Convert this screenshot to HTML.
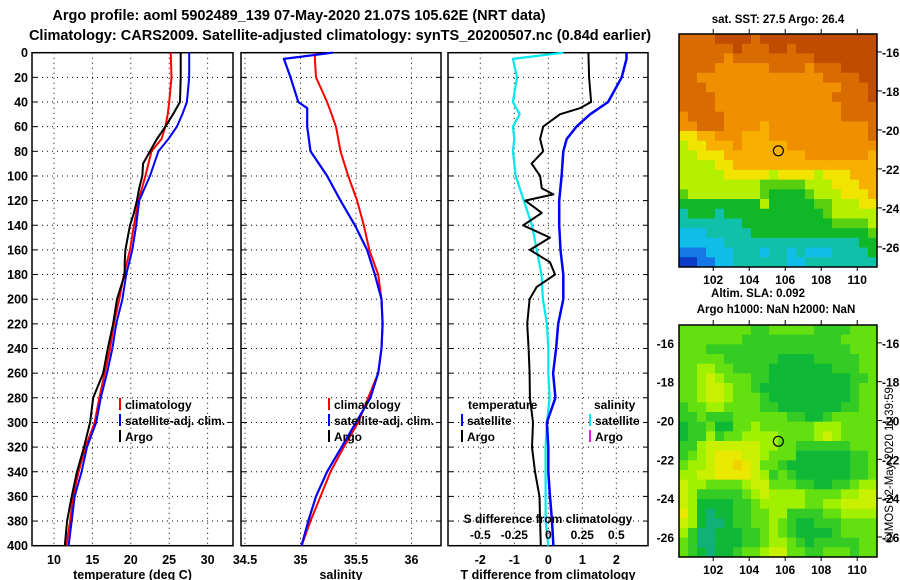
<!DOCTYPE html>
<html><head><meta charset="utf-8">
<style>
html,body{margin:0;padding:0;background:#fff;}
svg{display:block;font-family:"Liberation Sans",sans-serif;font-weight:bold;}
</style></head>
<body>
<svg id="chart" width="900" height="580" viewBox="0 0 900 580" xmlns="http://www.w3.org/2000/svg">
<rect x="0" y="0" width="900" height="580" fill="#fff"/>
<text x="299" y="20" font-size="14.5" text-anchor="middle">Argo profile: aoml 5902489_139 07-May-2020 21.07S 105.62E (NRT data)</text>
<text x="340" y="40" font-size="14.5" text-anchor="middle">Climatology: CARS2009. Satellite-adjusted climatology: synTS_20200507.nc (0.84d earlier)</text>
<text x="778" y="23" font-size="11.5" text-anchor="middle">sat. SST: 27.5 Argo: 26.4</text>
<g id="layer"></g>
<text x="758" y="297" font-size="11.5" text-anchor="middle">Altim. SLA: 0.092</text>
<text x="776" y="313" font-size="11.5" text-anchor="middle">Argo h1000: NaN h2000: NaN</text>
<text x="0" y="0" font-size="11.5" font-weight="normal" text-anchor="middle" transform="translate(893,465) rotate(-90)">©IMOS 12-May-2020 11:39:59</text>
</svg>
<script>
// ---- data ----
const depthTicks = [0,20,40,60,80,100,120,140,160,180,200,220,240,260,280,300,320,340,360,380,400];
const tempTicks = [10,15,20,25,30];
const salTicks = [34.5,35,35.5,36];
const diffTicks = [-2,-1,0,1,2];
const sdiffTicks = [-0.5,-0.25,0,0.25,0.5];

const tempDepth = [0,20,40,50,60,70,80,100,120,140,160,180,200,220,240,260,280,300,320,340,360,380,400];
const tempClim = [25.2,25.3,25.0,24.8,24.5,24.0,22.7,21.9,21.0,20.4,19.9,19.1,18.5,17.8,17.3,16.6,15.9,15.3,14.1,13.2,12.5,12.1,11.6];
const tempSat = [27.6,27.6,27.3,26.7,26.0,24.9,23.6,22.5,21.1,20.7,20.2,19.4,18.9,18.1,17.6,16.9,16.1,15.5,14.3,13.6,12.7,12.3,11.9];
const argoDepth = [0,20,40,50,60,70,80,90,100,110,120,130,140,150,160,170,180,190,200,220,240,260,280,300,320,340,360,380,400];
const argoTemp = [26.5,26.5,26.4,25.5,24.5,23.4,22.5,21.6,21.5,21.1,20.8,20.4,19.9,19.6,19.3,19.2,19.2,18.7,18.2,17.7,17.0,16.4,15.1,14.7,13.9,13.0,12.3,11.7,11.4];

const salDepth = [0,5,20,40,45,60,80,100,120,140,160,180,200,220,240,260,280,300,320,340,360,380,400];
const salClim = [35.13,35.13,35.14,35.24,35.26,35.32,35.36,35.43,35.51,35.57,35.62,35.70,35.73,35.74,35.73,35.70,35.61,35.52,35.39,35.27,35.18,35.09,35.01];
const salSat = [35.29,34.85,34.91,34.98,35.06,35.06,35.09,35.24,35.36,35.49,35.60,35.67,35.73,35.74,35.73,35.70,35.63,35.50,35.37,35.24,35.14,35.07,35.01];

const diffDepth = [0,5,20,40,50,60,70,80,100,120,140,160,180,200,220,240,260,280,300,320,340,360,380,400];
const satSdiff = [0.11,-0.26,-0.23,-0.26,-0.21,-0.26,-0.25,-0.26,-0.24,-0.18,-0.12,-0.085,-0.05,-0.04,-0.01,0,0,0.01,-0.01,-0.02,-0.02,-0.02,-0.02,0];
const satTdiff = [2.3,2.3,2.16,1.76,1.23,0.83,0.54,0.44,0.39,0.32,0.32,0.36,0.44,0.44,0.29,0.23,0.14,0.21,-0.04,0,0,0.05,0.11,0.15];
const argoDiffDepth = [0,20,40,45,50,60,70,80,90,100,110,115,120,130,140,150,160,170,180,190,200,220,240,260,280,300,320,340,360,380,400];
const argoTdiff = [1.18,1.2,1.26,0.93,0.34,-0.15,-0.24,-0.15,-0.49,-0.24,-0.19,0.15,-0.68,-0.19,-0.74,0.05,-0.54,0.05,0.2,-0.34,-0.55,-0.62,-0.58,-0.55,-0.54,-0.45,-0.48,-0.39,-0.26,-0.24,-0.22];

const lonTicks = [102,104,106,108,110];
const latTicks = [-16,-18,-20,-22,-24,-26];
const argoLon = 105.62;
const argoLat = -21.07;

const sstGrid = [
"aaaabbbbabbbbbbbbbbbbb","aaaaaabaaabbabbbbbbbbb","aaaaa9aaaaaaaaabbbbbbb","aaaa999999aaaa9aaabbbb",
"aa99999999999999aaaabb","aaa999999999999999aaab","aaaa9999999999999aaaab","aaaa99999999999999aaaa",
"9aaaa9999999999999aaaa","99aaa9999899999999999a","778899988899999999999a","6778889888889999999999",
"6677788888888899999998","6666778888888888888888","6666677777677776777888","6666666665555566677788",
"5666666665444456667778","4444444446444445566677","3444344444444444566666","3333333444444444455556",
"2223333344444444444445","2222233333333333333344","1112223332332322233334","0011223333332233333333"];
const slaGrid = [
"3333333322333332222333","3333333222222222223333","3332222222222222222333","3333322222211112222233",
"3344332222111111122233","3345433322111111111223","3345543321111111111233","3345543332111111111233",
"2334433332211111112233","2232223333332211233333","1223113343333334443333","1224233444433334543333",
"2245555554433222222333","2345666554333111111223","3445667653321111111223","4455666654232111111223",
"5443333455333221122344","5422222345444433334455","5411112234444433445555","6410112233442222334444",
"5410012233432112223333","4200111223432111123333","3200111223443212222233","3210112334553322333233"];

// ---- scales / styles ----
const SVGNS = "http://www.w3.org/2000/svg";
const layer = document.getElementById('layer');
const Y0 = 52.7, YK = 1.2325;
function yD(d){ return Y0 + d*YK; }
function xT(t){ return 54 + (t-10)*7.68; }
function xS(s){ return 300.5 + (s-35)*111; }
function xD(v){ return 548.3 + v*34; }
function xSD(v){ return 548.3 + v*136; }
const sstColors = {"0":"#0a3cc8","1":"#1478e6","2":"#10bce8","3":"#10c0a8","4":"#10b828","5":"#58d010","6":"#b4f000","7":"#f0e400","8":"#f8b000","9":"#f09000","a":"#d86c00","b":"#c04c00"};
const slaColors = {"0":"#10b078","1":"#10b838","2":"#34cc24","3":"#64e010","4":"#a0f000","5":"#c8f000","6":"#e8e800","7":"#f0d400"};

function el(tag, attrs, parent){
  const e = document.createElementNS(SVGNS, tag);
  for (const k in attrs) e.setAttribute(k, attrs[k]);
  (parent||layer).appendChild(e);
  return e;
}
function txt(x,y,s,size,anchor,parent){
  const t = el('text',{x:x,y:y,'font-size':size,'text-anchor':anchor||'middle'},parent);
  t.textContent = s;
  return t;
}

const LON0 = 100.1, LON1 = 111.1, LAT0 = -15.08, LAT1 = -27.03;
function drawMap(grid, colors, top, bottom, name, leftLabels){
  const x0 = 679, x1 = 877;
  const g = el('g',{});
  
  
  const mx = function(lon){ return x0 + (lon-LON0)/(LON1-LON0)*(x1-x0); };
  const my = function(lat){ return top + (lat-LAT0)/(LAT1-LAT0)*(bottom-top); };
  const rows = grid.length, cols = grid[0].length;
  const cw = (x1-x0)/cols, ch = (bottom-top)/rows;
  grid.forEach(function(row, r){
    for (let c=0;c<cols;c++){
      el('rect',{x:(x0+c*cw).toFixed(2),y:(top+r*ch).toFixed(2),width:(cw+0.4).toFixed(2),height:(ch+0.4).toFixed(2),fill:colors[row[c]]},g);
    }
  });
  el('rect',{x:x0,y:top,width:x1-x0,height:bottom-top,fill:'none',stroke:'#000','stroke-width':1.5},g);
  lonTicks.forEach(function(v){
    const x = mx(v);
    el('line',{x1:x,x2:x,y1:top-5,y2:top,stroke:'#000'},g);
    el('line',{x1:x,x2:x,y1:bottom,y2:bottom+4,stroke:'#000'},g);
    const t = txt(x, bottom+17, String(v), 12, 'middle', g);
    
    
  });
  latTicks.forEach(function(v){
    const y = my(v);
    el('line',{x1:x1,x2:x1+5,y1:y,y2:y,stroke:'#000'},g);
    const t = txt(x1+5, y+5, String(v), 12, 'start', g);
    
    
    if (leftLabels){
      const t2 = txt(674, y+5, String(v), 12, 'end', g);
      
      
    }
  });
  const c = el('circle',{cx:mx(argoLon),cy:my(argoLat),r:5,fill:'none',stroke:'#000','stroke-width':1.2},g);
  
  
}
drawMap(sstGrid, sstColors, 34, 267, 'sst-map', false);
drawMap(slaGrid, slaColors, 325, 557, 'sla-map', true);

const panels = [
  {name:'temperature-panel', x0:32, x1:233, ticks:tempTicks, fx:xT, label:'temperature (deg C)'},
  {name:'salinity-panel', x0:241, x1:441, ticks:salTicks, fx:xS, label:'salinity'},
  {name:'difference-panel', x0:448, x1:648, ticks:diffTicks, fx:xD, label:'T difference from climatology'}
];
const yTop = yD(0), yBot = yD(400);

panels.forEach(function(p){
  const g = el('g',{});
  
  
  el('rect',{x:p.x0,y:yTop,width:p.x1-p.x0,height:yBot-yTop,fill:'#fff'},g);
  depthTicks.forEach(function(d){
    if (d===0||d===400) return;
    const l = el('line',{x1:p.x0,x2:p.x1,y1:yD(d),y2:yD(d),stroke:'#000','stroke-width':1,'stroke-dasharray':'1,4'},g);
    
    
    el('line',{x1:p.x0,x2:p.x0+5,y1:yD(d),y2:yD(d),stroke:'#000'},g);
    el('line',{x1:p.x1-5,x2:p.x1,y1:yD(d),y2:yD(d),stroke:'#000'},g);
  });
  p.ticks.forEach(function(v){
    const x = p.fx(v);
    const l = el('line',{x1:x,x2:x,y1:yTop,y2:yBot,stroke:'#000','stroke-width':1,'stroke-dasharray':'1,4'},g);
    
    
    const t = txt(x, 564, String(v), 12.5, 'middle', g);
    
    
  });
  const r = el('rect',{x:p.x0,y:yTop,width:p.x1-p.x0,height:yBot-yTop,fill:'none',stroke:'#000','stroke-width':1.5},g);
  
  
  const at = txt((p.x0+p.x1)/2, 579, p.label, 12.5, 'middle', g);
  
  
});

depthTicks.forEach(function(d){
  const t = txt(28, yD(d)+4.5, String(d), 12.5, 'end');
  
  
});

function series(xs, ds, fx, color, name, w){
  const pts = xs.map(function(v,i){ return fx(v).toFixed(1)+','+yD(ds[i]).toFixed(1); }).join(' ');
  const pl = el('polyline',{points:pts,fill:'none',stroke:color,'stroke-width':w||2,'stroke-linejoin':'round'});
  
  
}
series(tempClim, tempDepth, xT, '#f00', 'temp-climatology-line');
series(tempSat, tempDepth, xT, '#00f', 'temp-satellite-line');
series(argoTemp, argoDepth, xT, '#000', 'temp-argo-line');
series(salClim, salDepth, xS, '#f00', 'salinity-climatology-line');
series(salSat, salDepth, xS, '#00f', 'salinity-satellite-line', 2.2);
series(satSdiff, diffDepth, xSD, '#00e8f0', 'salinity-diff-satellite-line', 2.2);
series(argoTdiff, argoDiffDepth, xD, '#000', 'temp-diff-argo-line');
series(satTdiff, diffDepth, xD, '#00f', 'temp-diff-satellite-line', 2.5);

function legendEntry(x, y, color, label, name){
  const g = el('g',{});
  
  
  el('line',{x1:x,x2:x,y1:y-11,y2:y+1,stroke:color,'stroke-width':2},g);
  txt(x+5, y, label, 12, 'start', g);
}
[[120,'temp'],[329,'sal']].forEach(function(a){
  legendEntry(a[0], 409, '#f00', 'climatology', a[1]+'-legend-climatology');
  legendEntry(a[0], 425, '#00f', 'satellite-adj. clim.', a[1]+'-legend-satellite');
  legendEntry(a[0], 441, '#000', 'Argo', a[1]+'-legend-argo');
});
const lt = txt(468, 409, 'temperature', 12, 'start');


const ls = txt(594, 409, 'salinity', 12, 'start');


legendEntry(462, 425, '#00f', 'satellite', 'diff-legend-temp-satellite');
legendEntry(462, 441, '#000', 'Argo', 'diff-legend-temp-argo');
legendEntry(590, 425, '#00e8f0', 'satellite', 'diff-legend-sal-satellite');
legendEntry(590, 441, '#e020e0', 'Argo', 'diff-legend-sal-argo');
const sdt = txt(548, 523, 'S difference from climatology', 12, 'middle');


sdiffTicks.forEach(function(v){
  const t = txt(xSD(v), 539, String(v), 12, 'middle');
  
  
});
</script>
</body></html>
